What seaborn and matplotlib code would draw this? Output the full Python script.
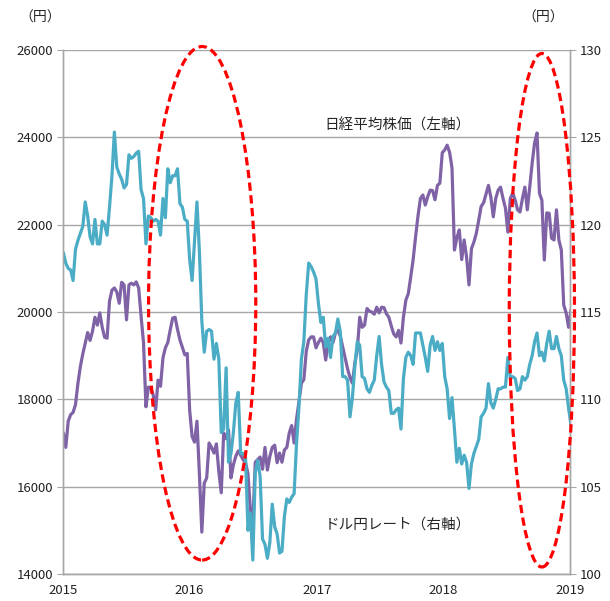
import matplotlib
matplotlib.use("Agg")
import matplotlib.pyplot as plt
import matplotlib.dates as mdates
from matplotlib.patches import Ellipse
import numpy as np
import pandas as pd
import seaborn as sns

# 週次データ（2015-01-02 〜 2019-01-04）
dates = pd.date_range("2015-01-02", periods=210, freq="W-FRI")

nikkei = [
    17230, 16900, 17500, 17650, 17700, 17880, 18370, 18750, 19040, 19280,
    19530, 19350, 19560, 19880, 19700, 19980, 19650, 19420, 19400, 20250,
    20500, 20550, 20460, 20200, 20680, 20620, 19820, 20620, 20660, 20620,
    20690, 20550, 19900, 19300, 17830, 18280, 18260, 18100, 17760, 18440,
    18300, 18950, 19180, 19300, 19590, 19860, 19880, 19600, 19360, 19190,
    19020, 19050, 17750, 17150, 17020, 17500, 16300, 14960, 16080, 16200,
    17000, 16900, 16770, 16980, 16350, 15860, 17230, 17100, 17300, 16200,
    16500, 16700, 16820, 16720, 16620, 16550, 16300, 15450, 15170, 16560,
    16620, 16680, 16400, 16900, 16380, 16690, 16900, 16950, 16550, 16770,
    16560, 16840, 16900, 17230, 17400, 17000, 17550, 17950, 18370, 18450,
    19100, 19360, 19430, 19430, 19180, 19300, 19400, 19300, 18900, 19280,
    19430, 19300, 19520, 19590, 19450, 19200, 18950, 18700, 18500, 18370,
    18830, 19130, 19880, 19650, 19700, 20080, 20020, 20000, 19950, 20110,
    19980, 20110, 20100, 19960, 19880, 19680, 19500, 19430, 19580, 19290,
    19880, 20270, 20420, 20800, 21200, 21720, 22200, 22600, 22680, 22450,
    22640, 22790, 22780, 22570, 22900, 22950, 23650, 23710, 23820, 23660,
    23300, 21420, 21700, 21880, 21200, 21650, 21260, 20620, 21450, 21600,
    21800, 22100, 22420, 22500, 22700, 22900, 22630, 22180, 22600, 22790,
    22860, 22600, 22380, 21830, 22600, 22720, 22560, 22340, 22290, 22600,
    22860, 22340, 22860, 23410, 23870, 24100, 22720, 22560, 21190, 22270,
    22260, 21690, 21650, 22340, 21650, 21420, 20160, 19980, 19650, 20050,
]

usdjpy = [
    118.4, 117.8, 117.5, 117.4, 116.8, 118.6, 119.1, 119.5, 119.9, 121.3,
    120.5, 119.3, 118.9, 120.3, 118.9, 118.9, 120.2, 120.0, 119.4, 121.0,
    122.8, 125.3, 123.3, 122.9, 122.6, 122.1, 122.3, 124.0, 123.8, 123.9,
    124.1, 124.2, 122.0, 121.5, 118.9, 120.5, 120.4, 120.2, 120.3, 120.2,
    119.4, 121.5, 120.4, 123.2, 122.4, 122.8, 122.8, 123.2, 121.2, 121.0,
    120.3, 120.2, 118.0, 116.8, 119.0, 121.3, 118.5, 114.5, 112.7, 113.9,
    114.0, 113.9, 112.3, 113.2, 112.3, 108.1, 108.3, 111.8, 106.4, 106.9,
    108.1, 109.8, 110.4, 106.9, 106.9, 106.7, 102.5, 103.5, 100.8, 105.8,
    106.5, 105.6, 102.0, 101.7, 100.9, 101.8, 104.0, 102.7, 102.3, 101.2,
    101.3, 103.3, 104.3, 104.1, 104.4, 104.6, 107.5, 109.6, 112.3, 113.3,
    116.0, 117.8, 117.6, 117.3, 116.9, 115.5, 114.4, 114.7, 113.0, 113.5,
    112.4, 113.6, 113.8, 114.6, 113.9, 111.3, 111.3, 111.1, 109.0, 110.1,
    111.9, 113.3, 113.1, 111.3, 111.2, 110.6, 110.4, 110.8, 111.1, 112.5,
    113.6, 112.0, 111.0, 110.7, 110.5, 109.2, 109.2, 109.4, 109.5, 108.3,
    111.2, 112.4, 112.7, 112.5, 112.0, 113.8, 113.8, 113.8, 113.1, 112.4,
    111.6, 113.1, 113.6, 112.8, 113.3, 112.8, 113.2, 111.3, 110.6, 108.9,
    110.1, 108.3, 106.4, 107.2, 106.3, 106.8, 106.4, 104.9, 106.3, 106.9,
    107.3, 107.7, 109.0, 109.2, 109.5, 110.9, 109.8, 109.5, 110.0, 110.6,
    110.6, 110.7, 110.7, 112.4, 111.2, 111.3, 111.2, 110.5, 110.6, 111.3,
    111.1, 111.3, 112.0, 112.5, 113.3, 113.8, 112.5, 112.7, 112.2, 113.2,
    113.9, 112.9, 112.9, 113.6, 112.9, 112.5, 111.1, 110.6, 109.5, 108.5,
]

years = [2015, 2016, 2017, 2018, 2019]
left_ticks = [14000, 16000, 18000, 20000, 22000, 24000, 26000]
right_ticks = [100, 105, 110, 115, 120, 125, 130]

df = pd.DataFrame({"date": dates, "nikkei": nikkei, "usdjpy": usdjpy})

PURPLE = "#7F63A6"
TEAL = "#4BACC6"
GRID = "#A6A6A6"

sns.set_style("white")
plt.rcParams["font.family"] = ["Noto Sans CJK JP", "DejaVu Sans"]

fig, ax = plt.subplots(figsize=(6.1, 6.01), dpi=100)
fig.subplots_adjust(left=0.1033, right=0.9344, bottom=0.0449, top=0.9168)

sns.lineplot(data=df, x="date", y="nikkei", ax=ax, color=PURPLE, linewidth=2.3)
ax2 = ax.twinx()
sns.lineplot(data=df, x="date", y="usdjpy", ax=ax2, color=TEAL, linewidth=2.3)

ax.set_xlim(pd.Timestamp("2015-01-01"), pd.Timestamp("2019-01-01"))
ax.set_ylim(14000, 26000)
ax2.set_ylim(100, 130)
ax.set_yticks(left_ticks)
ax2.set_yticks(right_ticks)
ax.set_xticks([pd.Timestamp(f"{y}-01-01") for y in years])
ax.set_xticklabels([str(y) for y in years])

for a in (ax, ax2):
    a.set_xlabel("")
    a.set_ylabel("")
    a.tick_params(direction="out", length=4, width=0.8, color=GRID,
                  labelsize=9.5, labelcolor="#222222", pad=3)
    for s in a.spines.values():
        s.set_color(GRID)
        s.set_linewidth(1.0)
    a.spines["top"].set_visible(False)

ax.grid(axis="y", color=GRID, linewidth=1.0)
ax.grid(axis="x", visible=False)
ax2.grid(False)

# 赤い点線の楕円（注目期間）
for center, width_days, yc in [("2016-02-06", 309, 115.5), ("2018-10-12", 188, 115.1)]:
    e = Ellipse((mdates.date2num(pd.Timestamp(center)), yc), width=width_days,
                height=29.4, fill=False, edgecolor="#FF0000", linewidth=2.3,
                linestyle=(0, (2.6, 1.4)), clip_on=False, zorder=5)
    ax2.add_patch(e)

fig.text(0.652, 0.792, "日経平均株価（左軸）", ha="center", va="center", fontsize=10.5)
fig.text(0.652, 0.1265, "ドル円レート（右軸）", ha="center", va="center", fontsize=10.5)
fig.text(0.066, 0.970, "（円）", ha="center", va="center", fontsize=10)
fig.text(0.890, 0.970, "（円）", ha="center", va="center", fontsize=10)

fig.savefig("out.png", dpi=100)
